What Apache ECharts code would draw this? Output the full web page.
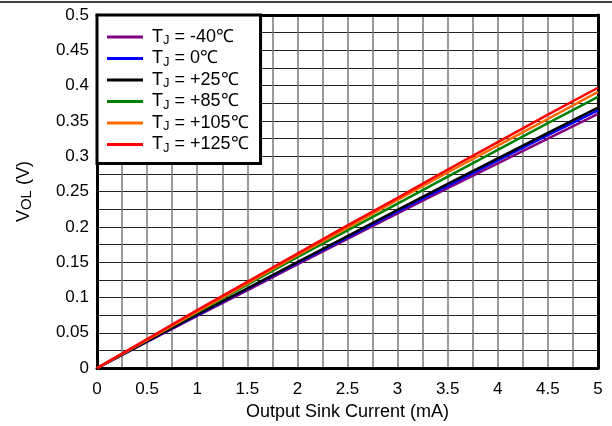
<!DOCTYPE html>
<html>
<head>
<meta charset="utf-8">
<script src="https://cdn.jsdelivr.net/npm/echarts@6/dist/echarts.min.js"></script>
<style>html,body{margin:0;padding:0;background:#fff}#c{width:612px;height:426px}</style>
</head>
<body>
<div id="c"></div>
<script>
var current = [0, 0.5, 1, 1.5, 2, 2.5, 3, 3.5, 4, 4.5, 5];
var tempLabels = ['-40℃', '0℃', '+25℃', '+85℃', '+105℃', '+125℃'];
var colors = ['#800080', '#0000FF', '#000000', '#008000', '#FF6A00', '#FF0000'];
var vM40  = [0, 0.037, 0.074, 0.110, 0.147, 0.183, 0.219, 0.255, 0.290, 0.325, 0.360];
var v0    = [0, 0.038, 0.075, 0.112, 0.149, 0.185, 0.222, 0.258, 0.294, 0.330, 0.365];
var v25   = [0, 0.038, 0.076, 0.113, 0.150, 0.187, 0.224, 0.261, 0.297, 0.333, 0.369];
var v85   = [0, 0.040, 0.079, 0.118, 0.157, 0.195, 0.233, 0.271, 0.309, 0.347, 0.384];
var v105  = [0, 0.040, 0.080, 0.120, 0.160, 0.199, 0.238, 0.277, 0.315, 0.353, 0.391];
var v125  = [0, 0.041, 0.082, 0.122, 0.162, 0.202, 0.241, 0.281, 0.320, 0.359, 0.397];
var allValues = [vM40, v0, v25, v85, v105, v125];

var FONT = 'Liberation Sans, Arial, sans-serif';
var chart = echarts.init(document.getElementById('c'), null, {renderer: 'canvas'});

var series = allValues.map(function (vals, i) {
  return {
    name: 'TJ = ' + tempLabels[i],
    type: 'line',
    data: current.map(function (x, j) { return [x, vals[j]]; }),
    showSymbol: false,
    symbol: 'none',
    lineStyle: {color: colors[i], width: 2.5},
    itemStyle: {color: colors[i]},
    animation: false
  };
});

var gridLineV = {show: true, lineStyle: {color: '#7a7a7a', width: 1.5}};
var gridLineH = {show: true, lineStyle: {color: '#202020', width: 1}};

chart.setOption({
  animation: false,
  backgroundColor: '#fff',
  textStyle: {fontFamily: FONT},
  grid: {left: 97, right: 14, top: 15, bottom: 56, containLabel: false},
  graphic: [{
    type: 'line', shape: {x1: 0, y1: 2, x2: 612, y2: 2},
    style: {stroke: '#000', lineWidth: 1.5}
  }],
  legend: {
    orient: 'vertical', left: 97, top: 15,
    padding: [13, 12, 9, 10],
    backgroundColor: '#fff', borderColor: '#000', borderWidth: 3, borderRadius: 0,
    icon: 'rect', itemWidth: 36, itemHeight: 3, itemGap: 2.5,
    z: 10,
    data: series.map(function (s) { return s.name; }),
    formatter: function (name) {
      return '{f|T}{s|J}{t| = ' + name.slice(5) + '}';
    },
    textStyle: {
      fontFamily: FONT, color: '#000',
      rich: {
        f: {fontSize: 18, lineHeight: 20, fontFamily: FONT, color: '#000', padding: [0, 0, 0, 4]},
        t: {fontSize: 18, lineHeight: 20, fontFamily: FONT, color: '#000'},
        s: {fontSize: 13, lineHeight: 20, verticalAlign: 'bottom', fontFamily: FONT, color: '#000'}
      }
    }
  },
  xAxis: [{
    type: 'value', min: 0, max: 5, interval: 0.5, position: 'bottom',
    name: 'Output Sink Current (mA)', nameLocation: 'middle', nameGap: 34,
    nameTextStyle: {fontSize: 18, color: '#000', fontFamily: FONT},
    axisLine: {show: true, onZero: false, lineStyle: {color: '#000', width: 3}},
    axisTick: {show: false},
    axisLabel: {fontSize: 17, color: '#000', margin: 13, fontFamily: FONT},
    splitLine: gridLineV,
    minorTick: {show: false, splitNumber: 2},
    minorSplitLine: gridLineV
  }, {
    type: 'value', min: 0, max: 5, position: 'top',
    axisLine: {show: true, onZero: false, lineStyle: {color: '#000', width: 3}},
    axisTick: {show: false}, axisLabel: {show: false}, splitLine: {show: false}
  }],
  yAxis: [{
    type: 'value', min: 0, max: 0.5, interval: 0.05, position: 'left',
    name: '{m|V}{s|OL}{m| (V)}', nameLocation: 'middle', nameGap: 63, nameRotate: 90,
    nameTextStyle: {
      fontSize: 18, color: '#000', fontFamily: FONT,
      rich: {
        m: {fontSize: 18, lineHeight: 20, fontFamily: FONT, color: '#000'},
        s: {fontSize: 15, lineHeight: 20, verticalAlign: 'bottom', fontFamily: FONT, color: '#000'}
      }
    },
    axisLine: {show: true, onZero: false, lineStyle: {color: '#000', width: 3}},
    axisTick: {show: false},
    axisLabel: {fontSize: 17, color: '#000', margin: 8, fontFamily: FONT,
      formatter: function (v) { return String(Math.round(v * 1000) / 1000); }},
    splitLine: gridLineH,
    minorTick: {show: false, splitNumber: 2},
    minorSplitLine: gridLineH
  }, {
    type: 'value', min: 0, max: 0.5, position: 'right',
    axisLine: {show: true, onZero: false, lineStyle: {color: '#000', width: 3}},
    axisTick: {show: false}, axisLabel: {show: false}, splitLine: {show: false}
  }],
  series: series
});
</script>
</body>
</html>
